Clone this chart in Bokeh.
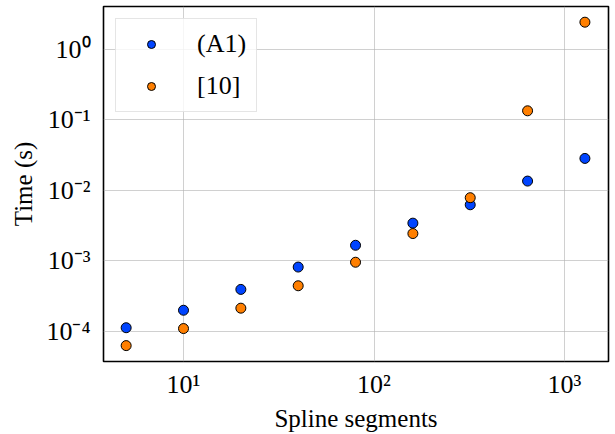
from bokeh.plotting import figure
from bokeh.models import Range1d, CustomJSTickFormatter, Legend, LegendItem, ColumnDataSource
from bokeh.embed import file_html
from bokeh.resources import INLINE

segments = [5, 10, 20, 40, 80, 160, 320, 640, 1280]
time_a1 = [1.13e-4, 2.0e-4, 3.95e-4, 8.2e-4, 1.67e-3, 3.44e-3, 6.27e-3, 1.36e-2, 2.85e-2]
time_ref10 = [6.3e-5, 1.1e-4, 2.14e-4, 4.45e-4, 9.6e-4, 2.45e-3, 7.9e-3, 0.135, 2.44]
series_labels = ["(A1)", "[10]"]
series_colors = ["#0044ff", "#ff7f00"]

FONT = "Liberation Serif"

p = figure(width=615, height=434, x_axis_type="log", y_axis_type="log",
           output_backend="svg", toolbar_location=None,
           x_range=Range1d(10 ** 0.58, 10 ** 3.231),
           y_range=Range1d(10 ** -4.426, 10 ** 0.61),
           min_border_left=103, min_border_right=7, min_border_top=6, min_border_bottom=73)

p.outline_line_color = "black"
p.outline_line_width = 1.6
p.background_fill_color = "white"
p.border_fill_color = "white"

fmt_code = """
const sup = {'0':'\u2070','1':'\u00b9','2':'\u00b2','3':'\u00b3','4':'\u2074','5':'\u2075','6':'\u2076','7':'\u2077','8':'\u2078','9':'\u2079','-':'\u207b'};
const e = Math.round(Math.log10(tick));
const s = String(e).split('').map(c => sup[c]).join('');
return '10' + s;
"""

for ax in (p.xaxis, p.yaxis):
    ax.formatter = CustomJSTickFormatter(code=fmt_code)
    ax.major_label_text_font = FONT
    ax.major_label_text_font_size = "26px"
    ax.axis_label_text_font = FONT
    ax.axis_label_text_font_size = "25px"
    ax.axis_label_text_font_style = "normal"
    ax.major_tick_line_color = None
    ax.minor_tick_line_color = None
    ax.major_tick_out = 0
    ax.major_tick_in = 0
    ax.minor_tick_out = 0
    ax.minor_tick_in = 0
    ax.axis_line_color = None
    ax.major_label_text_color = "black"
    ax.axis_label_text_color = "black"

p.xaxis.axis_label = "Spline segments"
p.yaxis.axis_label = "Time (s)"
p.xaxis.major_label_standoff = 8
p.yaxis.major_label_standoff = 13
p.xaxis.axis_label_standoff = 3
p.yaxis.axis_label_standoff = 6

p.xgrid.grid_line_color = "#b0b0b0"
p.ygrid.grid_line_color = "#b0b0b0"
p.xgrid.grid_line_alpha = 0.6
p.ygrid.grid_line_alpha = 0.6
p.xgrid.grid_line_width = 1
p.ygrid.grid_line_width = 1

src_a = ColumnDataSource(dict(x=segments, y=time_a1))
src_b = ColumnDataSource(dict(x=segments, y=time_ref10))
ra = p.scatter("x", "y", source=src_a, size=10, fill_color=series_colors[0],
               line_color="black", line_width=1)
rb = p.scatter("x", "y", source=src_b, size=10, fill_color=series_colors[1],
               line_color="black", line_width=1)

legend = Legend(items=[LegendItem(label=series_labels[0], renderers=[ra]),
                       LegendItem(label=series_labels[1], renderers=[rb])],
                location="top_left")
legend.label_text_font = FONT
legend.label_text_font_size = "26px"
legend.label_text_color = "black"
legend.background_fill_alpha = 0.8
legend.border_line_color = "#cccccc"
legend.border_line_width = 1
legend.margin = 12
legend.padding = 10
legend.spacing = 12
legend.glyph_width = 50
legend.glyph_height = 20
legend.label_standoff = 21
legend.label_height = 24
p.add_layout(legend)

open("out.html", "w").write(file_html(p, INLINE))
